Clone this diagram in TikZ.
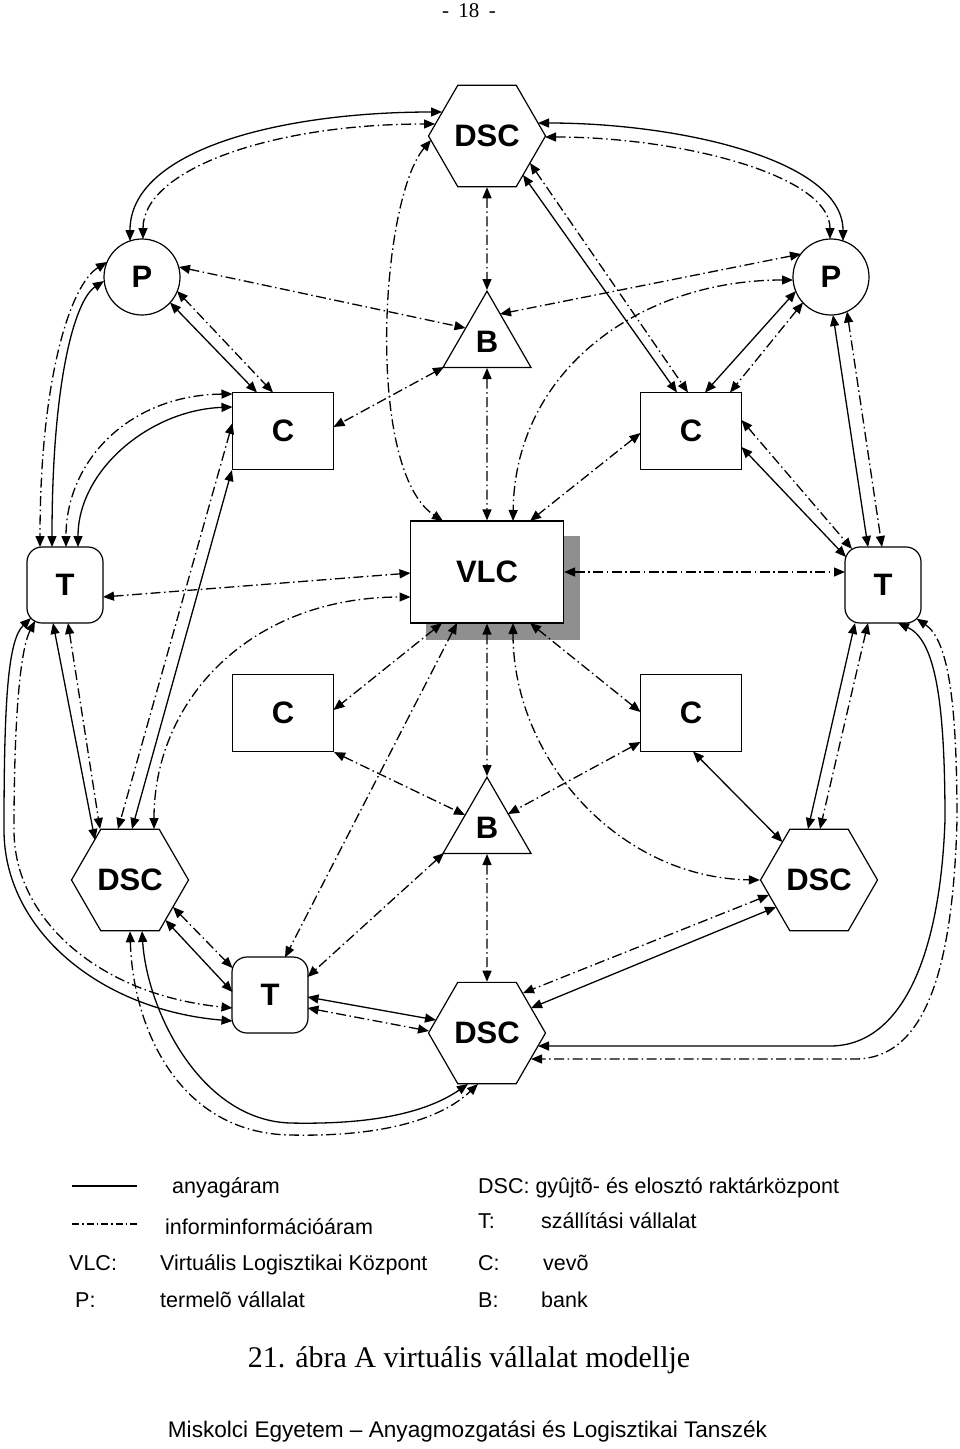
\documentclass[tikz,border=0pt]{standalone}
\usepackage{fontspec}
\usepackage{graphicx}
\setmainfont{Liberation Serif}
\setsansfont{Liberation Sans}
\usetikzlibrary{shapes.geometric,arrows.meta,backgrounds}
\definecolor{shadowgray}{RGB}{143,143,143}
\newcommand{\nodefont}{\sffamily\bfseries\fontsize{31}{31}\selectfont}
\newcommand{\legfont}{\sffamily\fontsize{21.5}{21.5}\selectfont}
\begin{document}
\begin{tikzpicture}[x=1pt,y=-1pt,
  >={Triangle[length=11pt,width=9pt]},
  mat/.style={line width=1.3pt,<->},
  info/.style={line width=1.3pt,dash pattern=on 10pt off 3.5pt on 1.5pt off 3.5pt,<->},
  shp/.style={draw,line width=1.2pt,fill=white,inner sep=0pt,font=\nodefont},
  hexa/.style={shp,regular polygon,regular polygon sides=6,minimum size=117pt},
  tri/.style={shp,regular polygon,regular polygon sides=3,minimum size=101.6pt},
  circ/.style={shp,circle,minimum size=76pt},
  cbox/.style={shp,rectangle,minimum width=101pt,minimum height=77pt},
  vbox/.style={shp,rectangle,minimum width=153pt,minimum height=102pt},
  tbox/.style={shp,rectangle,rounded corners=15pt,minimum width=76pt,minimum height=76pt},
  leg/.style={anchor=base west,inner sep=0pt,font=\legfont},
  legline/.style={line width=1.6pt}]
\useasboundingbox (0,0) rectangle (960,1449);

% header
\node[anchor=base,inner sep=0pt,font=\fontsize{21}{21}\selectfont] (hdr) at (469,17) {-\hspace{0.45em}18\hspace{0.45em}-};

% nodes
\node[hexa] (dscT) at (487,136) {DSC};
\node[circ] (pL) at (142,277) {P};
\node[circ] (pR) at (831,277) {P};
\node[tri] (bT) at (487,342) {B};
\node[cbox] (cTL) at (283,431) {C};
\node[cbox] (cTR) at (691,431) {C};
\node[vbox] (vlc) at (487,572) {VLC};
\node[tbox] (tL) at (65,585) {T};
\node[tbox] (tR) at (883,585) {T};
\node[cbox] (cML) at (283,713) {C};
\node[cbox] (cMR) at (691,713) {C};
\node[tri] (bB) at (487,828) {B};
\node[hexa] (dscL) at (130,880) {DSC};
\node[hexa] (dscR) at (819,880) {DSC};
\node[tbox] (tB) at (270,995) {T};
\node[hexa] (dscB) at (487,1033) {DSC};

\begin{scope}[on background layer]
\fill[shadowgray] ([shift={(16,16)}]vlc.north west) rectangle ([shift={(16,16)}]vlc.south east);
\end{scope}

% top DSC - P left / P right
\draw[mat] ([shift={(-12,-36)}]pL.center) .. controls (130,150) and (280,112) .. ([shift={(-45,-24)}]dscT.center);
\draw[info] ([shift={(1,-38)}]pL.center) .. controls (143,170) and (270,124) .. ([shift={(-52,-12)}]dscT.center);
\draw[mat] ([shift={(51,-13)}]dscT.center) .. controls (680,123) and (843,160) .. ([shift={(12,-36)}]pR.center);
\draw[info] ([shift={(58,1)}]dscT.center) .. controls (680,137) and (830,175) .. ([shift={(-1,-38)}]pR.center);
% top DSC - VLC, B, C
\draw[info] ([shift={(-56,4)}]dscT.center) .. controls (380,200) and (365,470) .. ([shift={(-44,-51)}]vlc.center);
\draw[info] (dscT.south) -- (bT.north);
\draw[mat] ([shift={(36,39)}]dscT.center) -- ([shift={(-14,-38.5)}]cTR.center);
\draw[info] ([shift={(43,27)}]dscT.center) -- ([shift={(-3,-38.5)}]cTR.center);
% P - B
\draw[info] ([shift={(37,-10)}]pL.center) -- ([shift={(-21.5,-14)}]bT.center);
\draw[info] ([shift={(-30,-23)}]pR.center) -- ([shift={(13,-28)}]bT.center);
% P - C top
\draw[mat] ([shift={(28,25.5)}]pL.center) -- ([shift={(-26,-38.5)}]cTL.center);
\draw[info] ([shift={(35,14)}]pL.center) -- ([shift={(-10,-38.5)}]cTL.center);
\draw[mat] ([shift={(-35,14)}]pR.center) -- ([shift={(14,-38.5)}]cTR.center);
\draw[info] ([shift={(-28,25.5)}]pR.center) -- ([shift={(39,-38.5)}]cTR.center);
% P right - VLC
\draw[info] ([shift={(-38,3)}]pR.center) .. controls (640,280) and (515,370) .. ([shift={(26,-51)}]vlc.center);
% C top right - VLC
\draw[info] ([shift={(-50.5,2)}]cTR.center) -- ([shift={(43,-51)}]vlc.center);
% B top - VLC, C
\draw[info] (bT.south) -- (vlc.north);
\draw[info] ([shift={(-43,25)}]bT.center) -- ([shift={(50.5,-4)}]cTL.center);
% P left - T left
\draw[info] ([shift={(-35,-15)}]pL.center) .. controls (70,285) and (40,380) .. ([shift={(-25,-38)}]tL.center);
\draw[mat] ([shift={(-38,4)}]pL.center) .. controls (75,300) and (52,380) .. ([shift={(-13,-38)}]tL.center);
% C top left - T left
\draw[info] ([shift={(-50.5,-37)}]cTL.center) .. controls (130,395) and (66,460) .. ([shift={(1,-38)}]tL.center);
\draw[mat] ([shift={(-50.5,-24)}]cTL.center) .. controls (150,410) and (78,470) .. ([shift={(13,-38)}]tL.center);
% C top left - DSC left
\draw[info] ([shift={(-50.5,-8)}]cTL.center) -- ([shift={(-12,-51)}]dscL.center);
\draw[mat] (cTL.south west) -- ([shift={(2,-51)}]dscL.center);
% T left - VLC
\draw[info] ([shift={(38,12)}]tL.center) -- ([shift={(-76.5,1)}]vlc.center);
% DSC left - VLC
\draw[info] ([shift={(24,-51)}]dscL.center) .. controls (154,700) and (250,597) .. ([shift={(-76.5,25)}]vlc.center);
% T left - DSC left
\draw[mat] ([shift={(-12,38)}]tL.center) -- ([shift={(-35,-40)}]dscL.center);
\draw[info] ([shift={(3,38)}]tL.center) -- ([shift={(-30,-51)}]dscL.center);
% T left - T bottom (around the left)
\draw[mat] ([shift={(-34,33)}]tL.center) .. controls (8,640) and (4,700) .. (4,830) .. controls (4,930) and (100,1010) .. ([shift={(-37.5,26)}]tB.center);
\draw[info] ([shift={(-30,36)}]tL.center) .. controls (20,650) and (14,720) .. (14,830) .. controls (14,920) and (100,995) .. ([shift={(-37.5,13)}]tB.center);
% DSC left - T bottom
\draw[mat] ([shift={(35.4,40)}]dscL.center) -- ([shift={(-37.5,-3)}]tB.center);
\draw[info] ([shift={(43,27)}]dscL.center) -- ([shift={(-37.5,-27)}]tB.center);
% DSC left - DSC bottom
\draw[mat] ([shift={(12,51)}]dscL.center) .. controls (147,1010) and (200,1120) .. (290,1123) .. controls (380,1125) and (430,1110) .. ([shift={(-19,51)}]dscB.center);
\draw[info] (dscL.south) .. controls (133,1030) and (180,1133) .. (290,1135) .. controls (380,1137) and (440,1120) .. ([shift={(-9,51)}]dscB.center);
% T bottom - DSC bottom
\draw[mat] ([shift={(37.5,2)}]tB.center) -- ([shift={(-51,-13)}]dscB.center);
\draw[info] ([shift={(37.5,13)}]tB.center) -- ([shift={(-58,-2)}]dscB.center);
% VLC - T bottom, C mid left
\draw[info] ([shift={(-30,51)}]vlc.center) -- ([shift={(15,-37.5)}]tB.center);
\draw[info] ([shift={(-45,51)}]vlc.center) -- ([shift={(50.5,-3)}]cML.center);
% C mid left - B bottom
\draw[info] (cML.south east) -- ([shift={(-22,-13)}]bB.center);
% B bottom - T bottom
\draw[info] ([shift={(-43,25)}]bB.center) -- ([shift={(37.5,-18)}]tB.center);
% VLC - B bottom - DSC bottom
\draw[info] (vlc.south) -- (bB.north);
\draw[info] (bB.south) -- (dscB.north);
% VLC - C mid right
\draw[info] ([shift={(43,51)}]vlc.center) -- ([shift={(-50.5,-1)}]cMR.center);
% C mid right - B bottom
\draw[info] ([shift={(-50.5,29)}]cMR.center) -- ([shift={(21,-14)}]bB.center);
% VLC - DSC right
\draw[info] ([shift={(26,51)}]vlc.center) .. controls (513,760) and (620,878) .. (dscR.west);
% C mid right - DSC right
\draw[mat] ([shift={(2,38.5)}]cMR.center) -- ([shift={(-36.5,-38)}]dscR.center);
% DSC right - DSC bottom
\draw[info] ([shift={(-50,15)}]dscR.center) -- ([shift={(36,-40)}]dscB.center);
\draw[mat] ([shift={(-43,27)}]dscR.center) -- ([shift={(44,-25)}]dscB.center);
% T right - DSC bottom (around the right)
\draw[mat] ([shift={(15,38)}]tR.center) .. controls (935,640) and (945,700) .. (945,820) .. controls (940,960) and (900,1046) .. (830,1046) -- ([shift={(51,13)}]dscB.center);
\draw[info] ([shift={(33.6,33.6)}]tR.center) .. controls (948,640) and (957,700) .. (957,820) .. controls (953,970) and (925,1059) .. (855,1059) -- ([shift={(44,26)}]dscB.center);
% T right - DSC right
\draw[mat] ([shift={(-28,38)}]tR.center) -- ([shift={(-11,-51)}]dscR.center);
\draw[info] ([shift={(-15,38)}]tR.center) -- ([shift={(1,-51)}]dscR.center);
% VLC - T right
\draw[info] (vlc.east) -- ([shift={(-38,-13)}]tR.center);
% C top right - T right
\draw[mat] ([shift={(50.5,16)}]cTR.center) -- ([shift={(-37,-28)}]tR.center);
\draw[info] ([shift={(50.5,-11)}]cTR.center) -- ([shift={(-31,-36)}]tR.center);
% P right - T right
\draw[mat] ([shift={(2,38)}]pR.center) -- ([shift={(-15,-38)}]tR.center);
\draw[info] ([shift={(16,34.5)}]pR.center) -- ([shift={(-1,-38)}]tR.center);

% legend
\coordinate (lm1) at (72,1186);
\coordinate (lm2) at (137,1186);
\draw[legline] (lm1) -- (lm2);
\coordinate (li1) at (72,1224);
\coordinate (li2) at (137,1224);
\draw[line width=1.2pt,dash pattern=on 7pt off 3pt on 1.5pt off 3pt] (li1) -- (li2);
\node[leg] (t1) at (172,1193) {anyagáram};
\node[leg] (t2) at (165,1234) {informinformációáram};
\node[leg] (t3) at (69,1270) {VLC:};
\node[leg] (t4) at (160,1270) {Virtuális Logisztikai Központ};
\node[leg] (t5) at (75,1307) {P:};
\node[leg] (t6) at (160,1307) {termelõ vállalat};
\node[leg] (t7) at (478,1193) {DSC: gyûjtõ- és elosztó raktárközpont};
\node[leg] (t8) at (478,1228) {T:};
\node[leg] (t9) at (541,1228) {szállítási vállalat};
\node[leg] (t10) at (478,1270) {C:};
\node[leg] (t11) at (543,1270) {vevõ};
\node[leg] (t12) at (478,1307) {B:};
\node[leg] (t13) at (541,1307) {bank};

% caption and footer
\node[anchor=base,inner sep=0pt,font=\fontsize{30}{30}\selectfont] (cap) at (469,1367) {21. ábra A virtuális vállalat modellje};
\node[anchor=base,inner sep=0pt,font=\sffamily\fontsize{22.6}{22.6}\selectfont] (foot) at (467.5,1437) {Miskolci Egyetem – Anyagmozgatási és Logisztikai Tanszék};
\end{tikzpicture}
\end{document}
